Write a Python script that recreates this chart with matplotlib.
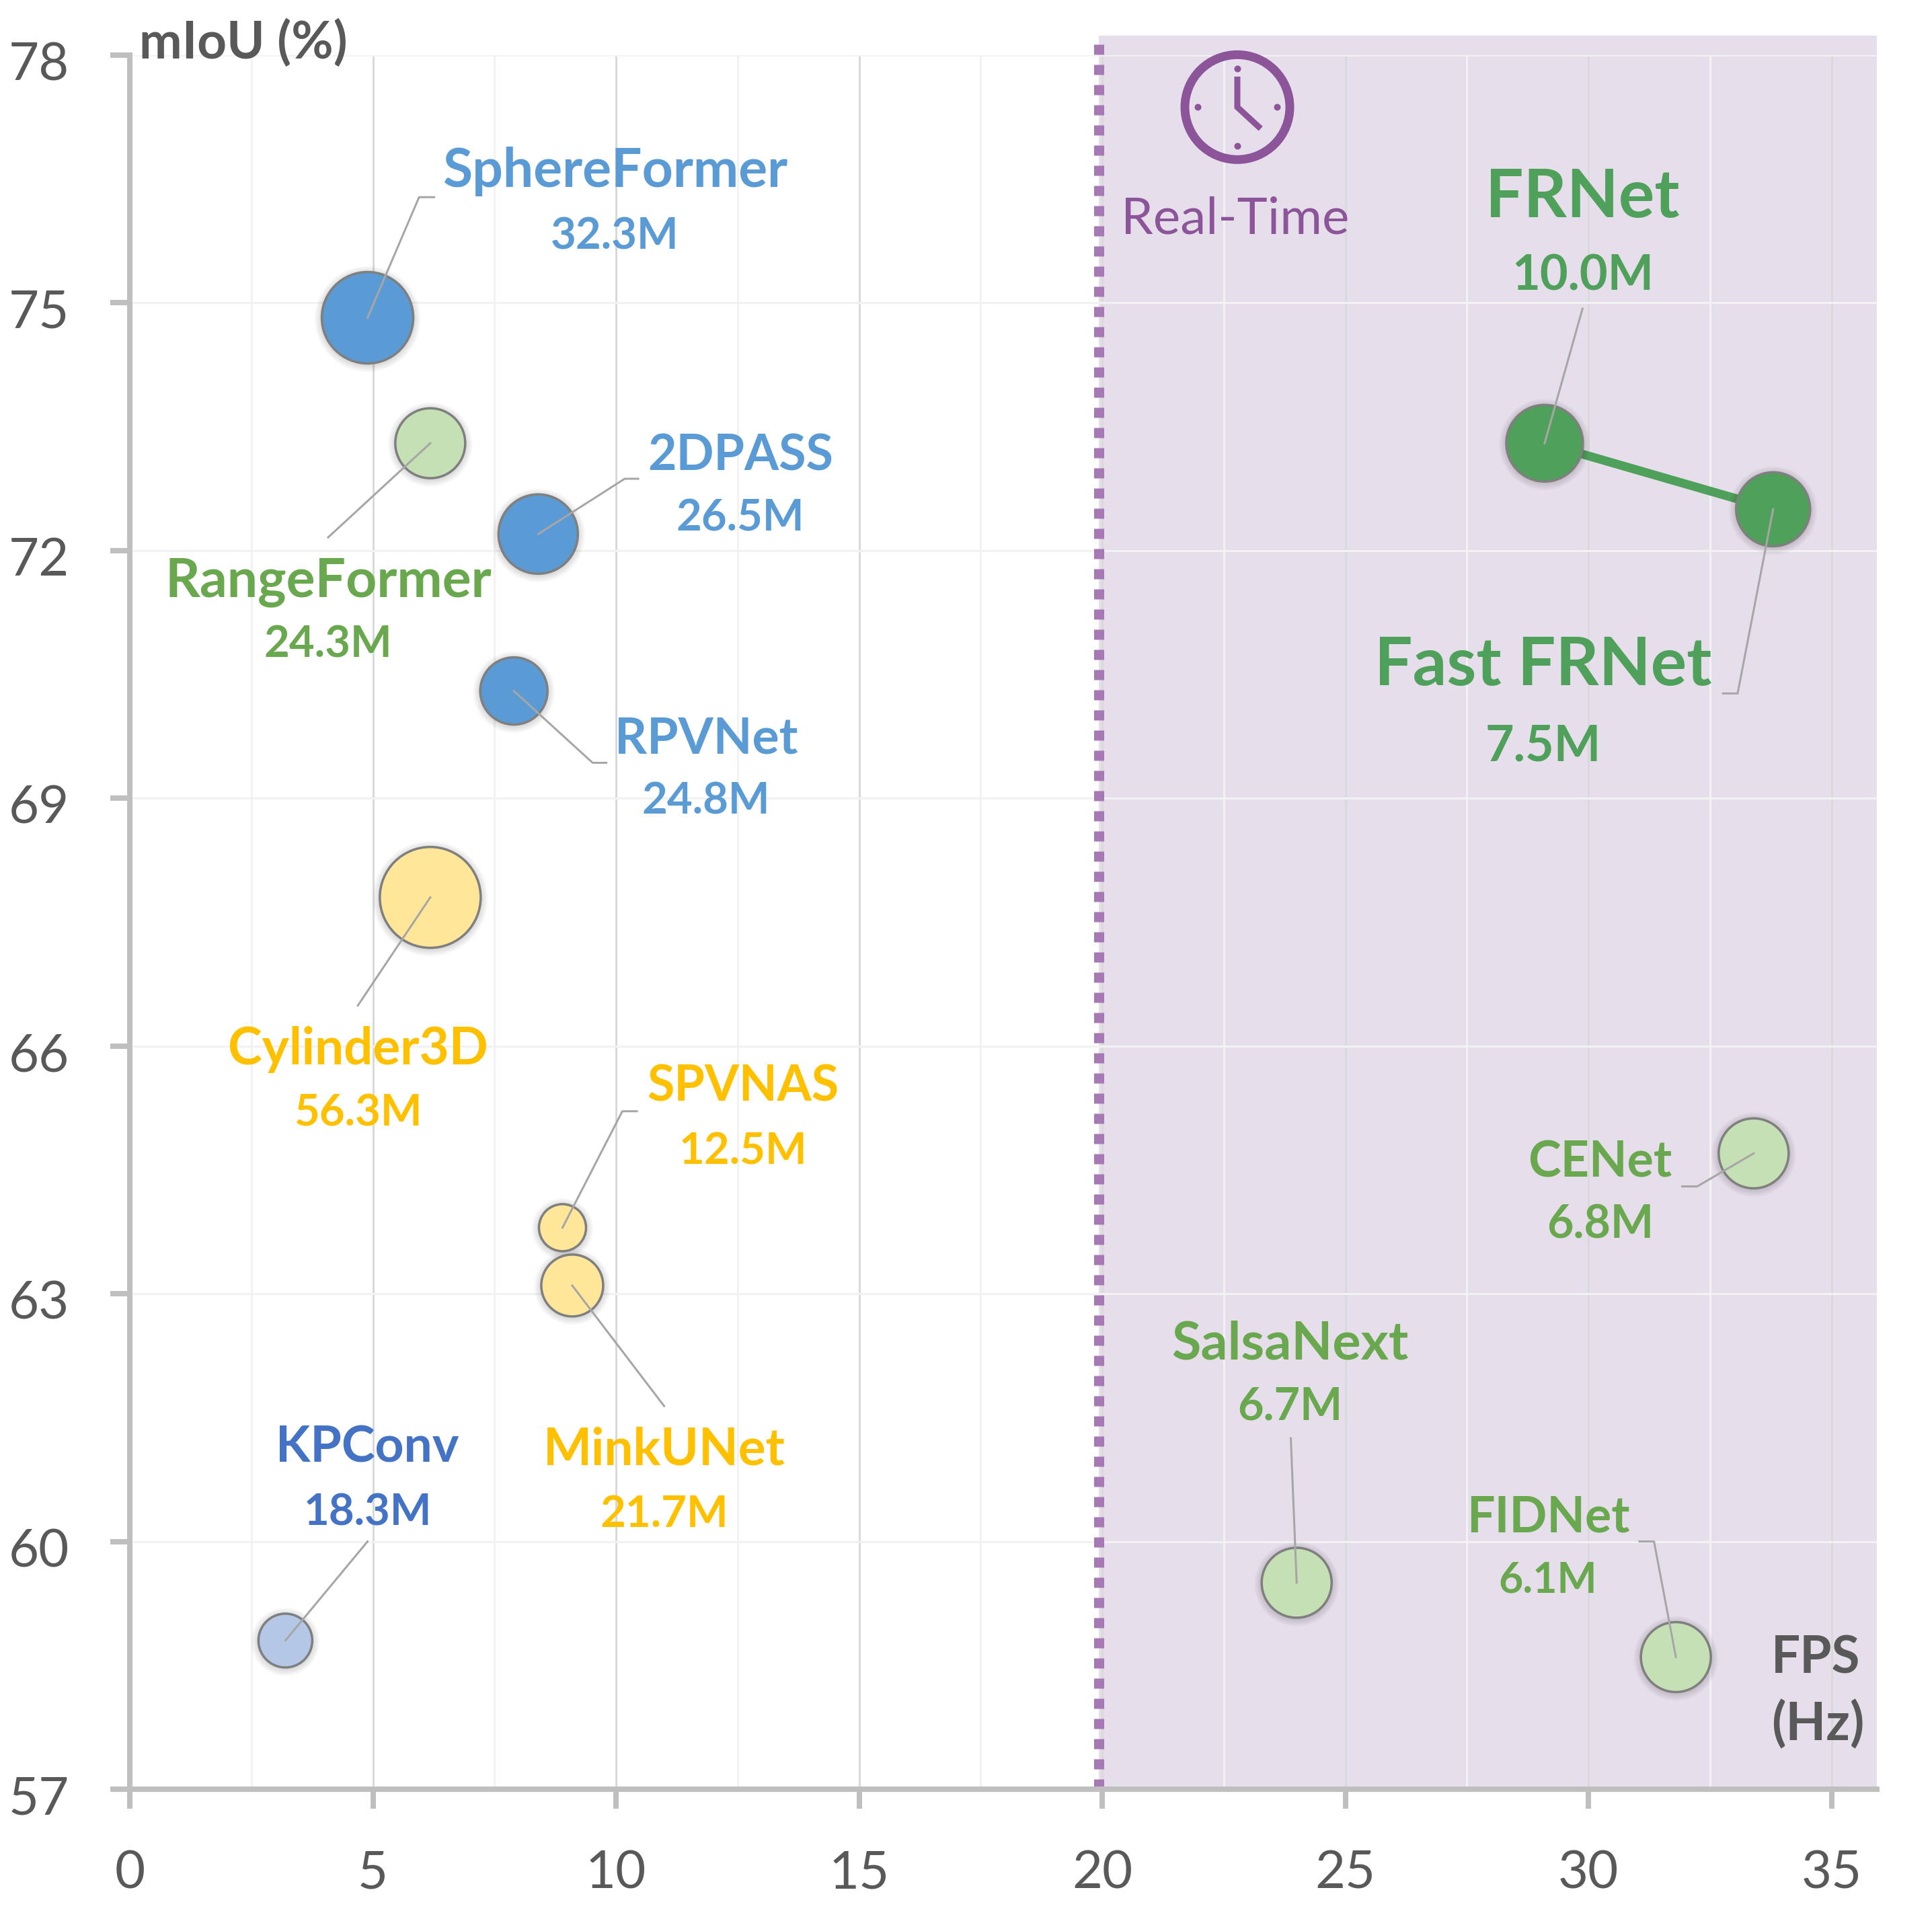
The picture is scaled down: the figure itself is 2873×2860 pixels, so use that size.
import matplotlib
matplotlib.use('Agg')
import matplotlib.pyplot as plt
import matplotlib.transforms as mtrans
import numpy as np

# Model data
names = ['SphereFormer', '2DPASS', 'RangeFormer', 'RPVNet', 'Cylinder3D', 'SPVNAS', 'MinkUNet',
         'KPConv', 'FRNet', 'Fast FRNet', 'CENet', 'SalsaNext', 'FIDNet']
params = ['32.3M', '26.5M', '24.3M', '24.8M', '56.3M', '12.5M', '21.7M',
          '18.3M', '10.0M', '7.5M', '6.8M', '6.7M', '6.1M']
fps = [4.89, 8.4, 6.18, 7.9, 6.18, 8.9, 9.1, 3.2, 29.1, 33.8, 33.4, 24.0, 31.8]
miou = [74.82, 72.2, 73.3, 70.3, 67.8, 63.8, 63.1, 58.8, 73.3, 72.5, 64.7, 59.5, 58.6]

# Bubble radius in px
radius = [68, 59, 52, 50, 75, 35, 46, 40, 57, 55, 52, 52, 52]
fill = ['#5B9BD5', '#5B9BD5', '#C5E0B4', '#5B9BD5', '#FFE699', '#FFE699', '#FFE699',
        '#B4C7E7', '#4EA05A', '#4EA05A', '#C5E0B4', '#C5E0B4', '#C5E0B4']
text_col = ['#5B9BD5', '#5B9BD5', '#6AA84F', '#5B9BD5', '#FFC000', '#FFC000', '#FFC000',
            '#4472C4', '#4EA05A', '#4EA05A', '#6AA84F', '#6AA84F', '#6AA84F']

# Label centres, name and parameter count
name_x = [9.98, 12.56, 4.08, 11.85, 4.69, 12.61, 10.99, 4.89, 29.88, 29.07, 30.24, 23.86, 29.17]
name_y = [76.63, 73.19, 71.66, 69.76, 66.0, 65.55, 61.15, 61.18, 76.31, 70.64, 64.63, 62.43, 60.33]
par_y = [75.84, 72.43, 70.9, 69.0, 65.22, 64.76, 60.37, 60.39, 75.36, 69.67, 63.87, 61.67, 59.57]
name_size = [58, 53, 58, 54, 55, 53, 55, 54, 72, 72, 53, 57, 53]
par_size = [47, 47, 47, 47, 47, 47, 47, 47, 52, 53, 49, 48, 45]

# Leader lines, from the bubble outwards
leaders = [[(5.95, 76.28), (6.26, 76.28)],
           [(10.18, 72.87), (10.46, 72.87)],
           [(4.08, 72.16)],
           [(9.52, 69.43), (9.8, 69.43)],
           [(4.69, 66.49)],
           [(10.13, 65.21), (10.43, 65.21)],
           [(10.99, 61.64)],
           [(4.89, 60.0)],
           [(29.88, 74.93)],
           [(33.07, 70.27), (32.77, 70.27)],
           [(32.24, 64.3), (31.93, 64.3)],
           [(23.88, 61.25)],
           [(31.35, 60.0), (31.05, 60.0)]]

x_major = [0, 5, 10, 15, 20, 25, 30, 35]
x_minor = [2.5, 7.5, 12.5, 17.5, 22.5, 27.5, 32.5]
y_major = [57, 60, 63, 66, 69, 72, 75, 78]
real_time = 19.93

W, H = 2873, 2860
DPI = 100
PT = 72 / DPI  # px to points

plt.rcParams['font.family'] = ['Lato', 'DejaVu Sans']
fig = plt.figure(figsize=(W / DPI, H / DPI), dpi=DPI)
ax = fig.add_axes([193 / W, (H - 2661) / H, 35.93 * 72.3 / W, 2579 / H])
ax.set_xlim(0, 35.93)
ax.set_ylim(57, 78)

# Axes
for s in ['top', 'right']:
    ax.spines[s].set_visible(False)
for s in ['left', 'bottom']:
    ax.spines[s].set_color('#BFBFBF')
    ax.spines[s].set_linewidth(8 * PT)
ax.set_xticks(x_major)
ax.set_xticks(x_minor, minor=True)
ax.set_yticks(y_major)
ax.tick_params(axis='both', which='major', length=29 * PT, width=8 * PT, color='#BFBFBF',
               labelcolor='#595959', labelsize=56)
ax.tick_params(axis='x', which='major', pad=44)
ax.tick_params(axis='y', which='major', pad=44)
ax.tick_params(axis='x', which='minor', length=0)
ax.set_axisbelow(True)
ax.grid(axis='x', which='major', color='#D9D9D9', lw=3 * PT)
ax.grid(axis='x', which='minor', color='#F2F2F2', lw=3 * PT)
ax.grid(axis='y', which='major', color='#F2F2F2', lw=3 * PT)

# y labels sit a bit below their ticks
shift = mtrans.ScaledTranslation(0, -9 / DPI, fig.dpi_scale_trans)
for lab in ax.get_yticklabels():
    lab.set_transform(lab.get_transform() + shift)

# Real-time region
ax.fill_between([real_time, 35.93], 57, 78.24, color='#E7DEEB', lw=0, zorder=0.1, clip_on=False)
ax.plot([real_time, real_time], [57, 78.24], color='#A678B4', lw=15 * PT, ls=(0, (1, 1)),
        dash_capstyle='butt', clip_on=False, zorder=1.5)

# Fast variant connection
ax.plot(fps[8:10], miou[8:10], color='#4EA05A', lw=13 * PT, zorder=2)

# Bubbles with a soft shadow
for k in range(1, 7):
    sizes = [(2 * (r + k * 1.8) * PT) ** 2 for r in radius]
    ax.scatter(fps, np.array(miou) - 0.015, s=sizes, color='black', alpha=0.025, lw=0, zorder=2.5)
sizes = [(2 * r * PT) ** 2 for r in radius]
ax.scatter(fps, miou, s=sizes, c=fill, edgecolors='#7F7F7F', linewidths=3.5 * PT, zorder=3)

# Labels and leader lines
for i in range(len(names)):
    ax.text(name_x[i], name_y[i] - 0.04, names[i], color=text_col[i], fontweight='bold',
            fontsize=name_size[i], ha='center', va='center', zorder=5)
    ax.text(name_x[i], par_y[i] - 0.04, params[i], color=text_col[i], fontweight='bold',
            fontsize=par_size[i], ha='center', va='center', zorder=5)
    xs = [fps[i]] + [p[0] for p in leaders[i]]
    ys = [miou[i]] + [p[1] for p in leaders[i]]
    ax.plot(xs, ys, color='#A6A6A6', lw=3 * PT, zorder=4)

# Axis titles
ax.text(2.33, 78.15, 'mIoU (%)', color='#595959', fontweight='bold', fontsize=55,
        ha='center', va='center', clip_on=False)
ax.text(34.67, 58.58, 'FPS', color='#595959', fontweight='bold', fontsize=55, ha='center', va='center')
ax.text(34.72, 57.78, '(Hz)', color='#595959', fontweight='bold', fontsize=56, ha='center', va='center')

# Clock icon
purple = '#8C5499'
cx, cy = 22.78, 77.37
ax.scatter([cx], [cy], s=(2 * 78 * PT) ** 2, facecolors='none', edgecolors=purple,
           linewidths=13 * PT, zorder=5, clip_on=False)
ax.scatter([cx, cx, cx - 0.81, cx + 0.81], [cy + 0.47, cy - 0.47, cy, cy], s=(10 * PT) ** 2,
           color=purple, lw=0, zorder=5)
ax.plot([cx, cx, cx + 0.48], [cy + 0.37, cy, cy - 0.26], color=purple, lw=9 * PT,
        solid_joinstyle='miter', solid_capstyle='butt', zorder=5)
ax.text(22.74, 76.01, 'Real-Time', color=purple, fontsize=55, ha='center', va='center', zorder=5)

fig.savefig('out.png', dpi=DPI)
